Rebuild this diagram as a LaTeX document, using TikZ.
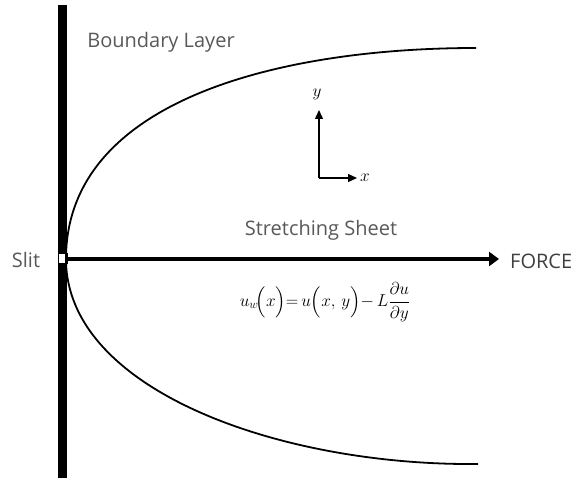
\documentclass[tikz,border=0pt]{standalone}
\usepackage{fontspec}
\usepackage{amsmath}
\newfontfamily\hand{Open Sans}
\usetikzlibrary{arrows.meta}
\begin{document}
\begin{tikzpicture}[x=1pt,y=-1pt,
  hand/.style={font=\hand\fontsize{20}{24}\selectfont, text=black!65, inner sep=0pt},
  curve/.style={line width=1.8pt},
  axis/.style={line width=1.3pt, -{Triangle[length=9pt,width=8pt]}},
  sheet/.style={line width=4.5pt, -{Triangle[length=10pt,width=14pt]}}]
\useasboundingbox (0,0) rectangle (576,481);
\fill[white] (0,0) rectangle (576,481);
% slit wall
\fill (58,5) rectangle (67,253.5);
\fill (58,263.5) rectangle (67,478);
\draw[line width=0.6pt, fill=white] (58,253.5) rectangle (67,263.5);
% stretching sheet
\coordinate (O) at (66,259);
\coordinate (F) at (499,259);
\draw[sheet] (O) -- (F);
% boundary layer edges
\coordinate (U) at (476,48);
\coordinate (D) at (478,464);
\draw[curve] (O) .. controls (66,100) and (280,48) .. (U);
\draw[curve] (O) .. controls (66,390) and (280,466) .. (D);
% axes
\coordinate (A0) at (319,178);
\coordinate (Ay) at (319,110);
\coordinate (Ax) at (357,178);
\draw[axis] (A0) -- (Ay);
\draw[axis] (A0) -- (Ax);
\node[font=\fontsize{18}{20}\selectfont] (ylab) at (317,94) {$y$};
\node[font=\fontsize{18}{20}\selectfont] (xlab) at (365,178) {$x$};
% labels
\node[hand] (bl) at (161,42) {Boundary Layer};
\node[hand] (ss) at (321,230) {Stretching Sheet};
\node[hand] (slit) at (26,260) {Slit};
\node[hand, anchor=west, text=black!75] (force) at (510,261) {FORCE};
\node[font=\fontsize{17}{20}\selectfont] (eq) at (325,302)
  {$u_w\!\Bigl(x\Bigr){=}\,u\Bigl(x,\,y\Bigr){-}\,L\dfrac{\partial u}{\partial y}$};
\end{tikzpicture}
\end{document}
